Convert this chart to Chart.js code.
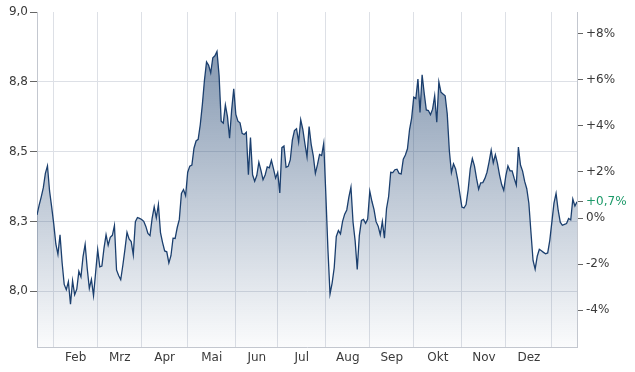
<!DOCTYPE html>
<html>
<head>
<meta charset="utf-8">
<script src="https://cdn.jsdelivr.net/npm/chart.js@4"></script>
<style>
  body { margin: 0; background: #fff; }
  canvas { display: block; }
</style>
</head>
<body>
<canvas id="myChart" width="635" height="372"></canvas>
<script>
const ctx = document.getElementById("myChart").getContext("2d");

// daily closing prices (one per trading day)
const prices = [
  8.273, 8.307, 8.337, 8.370, 8.422, 8.449, 8.359, 8.302, 8.241, 8.169,
  8.132, 8.202, 8.102, 8.024, 8.005, 8.034, 7.953, 8.037, 7.987, 8.007,
  8.071, 8.051, 8.124, 8.168, 8.081, 8.010, 8.042, 7.984, 8.066, 8.149,
  8.087, 8.090, 8.153, 8.202, 8.165, 8.193, 8.200, 8.235, 8.076, 8.056,
  8.041, 8.092, 8.149, 8.211, 8.187, 8.178, 8.130, 8.249, 8.264, 8.261,
  8.257, 8.250, 8.232, 8.207, 8.199, 8.261, 8.302, 8.263, 8.310, 8.210,
  8.174, 8.144, 8.141, 8.101, 8.127, 8.190, 8.189, 8.228, 8.257, 8.350,
  8.364, 8.342, 8.426, 8.448, 8.452, 8.512, 8.538, 8.544, 8.596, 8.668,
  8.755, 8.821, 8.809, 8.782, 8.836, 8.843, 8.859, 8.772, 8.609, 8.602,
  8.667, 8.625, 8.548, 8.649, 8.725, 8.633, 8.609, 8.603, 8.565, 8.561,
  8.569, 8.417, 8.550, 8.417, 8.394, 8.414, 8.462, 8.433, 8.399, 8.416,
  8.445, 8.442, 8.469, 8.438, 8.405, 8.425, 8.352, 8.514, 8.520, 8.444,
  8.447, 8.470, 8.541, 8.575, 8.582, 8.535, 8.614, 8.580, 8.528, 8.481,
  8.590, 8.526, 8.485, 8.422, 8.453, 8.490, 8.486, 8.530, 8.346, 8.149,
  7.990, 8.029, 8.084, 8.196, 8.217, 8.205, 8.250, 8.276, 8.291, 8.337,
  8.373, 8.247, 8.180, 8.078, 8.199, 8.253, 8.257, 8.243, 8.258, 8.358,
  8.322, 8.293, 8.249, 8.233, 8.202, 8.250, 8.190, 8.296, 8.339, 8.426,
  8.425, 8.435, 8.437, 8.422, 8.420, 8.473, 8.488, 8.510, 8.579, 8.620,
  8.695, 8.690, 8.760, 8.640, 8.775, 8.709, 8.649, 8.647, 8.632, 8.652,
  8.700, 8.605, 8.750, 8.713, 8.706, 8.700, 8.635, 8.504, 8.425, 8.456,
  8.438, 8.400, 8.350, 8.301, 8.298, 8.310, 8.364, 8.438, 8.475, 8.449,
  8.404, 8.365, 8.388, 8.389, 8.404, 8.426, 8.463, 8.505, 8.460, 8.489,
  8.458, 8.416, 8.382, 8.361, 8.414, 8.449, 8.431, 8.431, 8.404, 8.380,
  8.516, 8.452, 8.430, 8.393, 8.367, 8.315, 8.211, 8.110, 8.079, 8.125,
  8.150, 8.145, 8.139, 8.134, 8.137, 8.182, 8.248, 8.315, 8.350, 8.290,
  8.247, 8.236, 8.239, 8.242, 8.260, 8.255, 8.330, 8.305, 8.320
];

// price the percent axis is measured against
const basePrice = 8.262;

// index of the first trading day of each month (Feb .. next Jan)
const monthStarts = [8, 29, 50, 72, 95, 115, 138, 159, 180, 203, 224, 246];
const monthLabels = ["Feb", "Mrz", "Apr", "Mai", "Jun", "Jul", "Aug", "Sep", "Okt", "Nov", "Dez"];

const priceTicks = [8.0, 8.25, 8.5, 8.75, 9.0];
const pctTicks = [-4, -2, 0, 2, 4, 6, 8];
const priceMin = 7.8;
const priceMax = 9.0;

const lastPct = (prices[prices.length - 1] / basePrice - 1) * 100;

// label sits in the middle of each month
const labelAt = {};
monthLabels.forEach((m, i) => {
  labelAt[(monthStarts[i] + monthStarts[i + 1]) / 2] = m;
});

const gridColor = "#dde0e6";
const axisColor = "#c3c7cf";
const textColor = "#3a3a3a";

Chart.defaults.font.family = "DejaVu Sans";
Chart.defaults.font.size = 12;
Chart.defaults.color = textColor;

function fmtPct(v) {
  let s = Number.isInteger(v) ? String(v) : v.toFixed(1).replace(".", ",");
  if (v > 0) s = "+" + s;
  return s + "%";
}

const myChart = new Chart(ctx, {
  type: "line",
  data: {
    datasets: [
      {
        data: prices.map((v, i) => ({ x: i, y: v })),
        borderColor: "#1b3f6e",
        borderWidth: 1.3,
        pointRadius: 0,
        tension: 0,
        fill: "start",
        backgroundColor: (c) => {
          const area = c.chart.chartArea;
          if (!area) return "rgba(28,64,110,0.3)";
          const g = c.chart.ctx.createLinearGradient(0, area.top, 0, area.bottom);
          g.addColorStop(0, "rgba(28,64,110,0.6)");
          g.addColorStop(1, "rgba(28,64,110,0.02)");
          return g;
        },
      },
    ],
  },
  options: {
    responsive: false,
    animation: false,
    layout: { padding: { top: 12, bottom: 0, left: 0, right: 0 } },
    plugins: { legend: { display: false }, tooltip: { enabled: false } },
    scales: {
      x: {
        type: "linear",
        min: 0,
        max: prices.length - 1,
        afterBuildTicks: (scale) => {
          const vals = monthStarts.concat(Object.keys(labelAt).map(Number));
          vals.sort((a, b) => a - b);
          scale.ticks = vals.map((v) => ({ value: v }));
        },
        afterFit: (scale) => { scale.height = 25; },
        ticks: {
          autoSkip: false,
          maxRotation: 0,
          padding: 4,
          callback: (v) => labelAt[v] || "",
        },
        grid: {
          drawTicks: false,
          color: (c) => (c.tick && monthStarts.includes(c.tick.value) ? gridColor : "rgba(0,0,0,0)"),
        },
        border: { color: axisColor },
      },
      y: {
        position: "left",
        min: priceMin,
        max: priceMax,
        afterBuildTicks: (scale) => {
          scale.ticks = priceTicks.map((v) => ({ value: v }));
        },
        afterFit: (scale) => { scale.width = 37; },
        ticks: {
          autoSkip: false,
          padding: 2,
          callback: (v) => v.toFixed(1).replace(".", ","),
        },
        grid: {
          tickLength: 7,
          tickColor: "#666",
          color: (c) => (c.tick && c.tick.value === priceMax ? "rgba(0,0,0,0)" : gridColor),
        },
        border: { color: axisColor },
      },
      y1: {
        position: "right",
        min: (priceMin / basePrice - 1) * 100,
        max: (priceMax / basePrice - 1) * 100,
        afterBuildTicks: (scale) => {
          scale.ticks = pctTicks.concat([lastPct]).map((v) => ({ value: v }));
        },
        afterFit: (scale) => { scale.width = 58; },
        ticks: {
          autoSkip: false,
          padding: 3,
          callback: (v) => fmtPct(v),
          color: (c) => (c.tick && c.tick.value === lastPct ? "#1e9a6a" : textColor),
        },
        grid: {
          drawOnChartArea: false,
          tickLength: 6,
          tickColor: "#666",
        },
        border: { color: axisColor },
      },
    },
  },
});
</script>
</body>
</html>
